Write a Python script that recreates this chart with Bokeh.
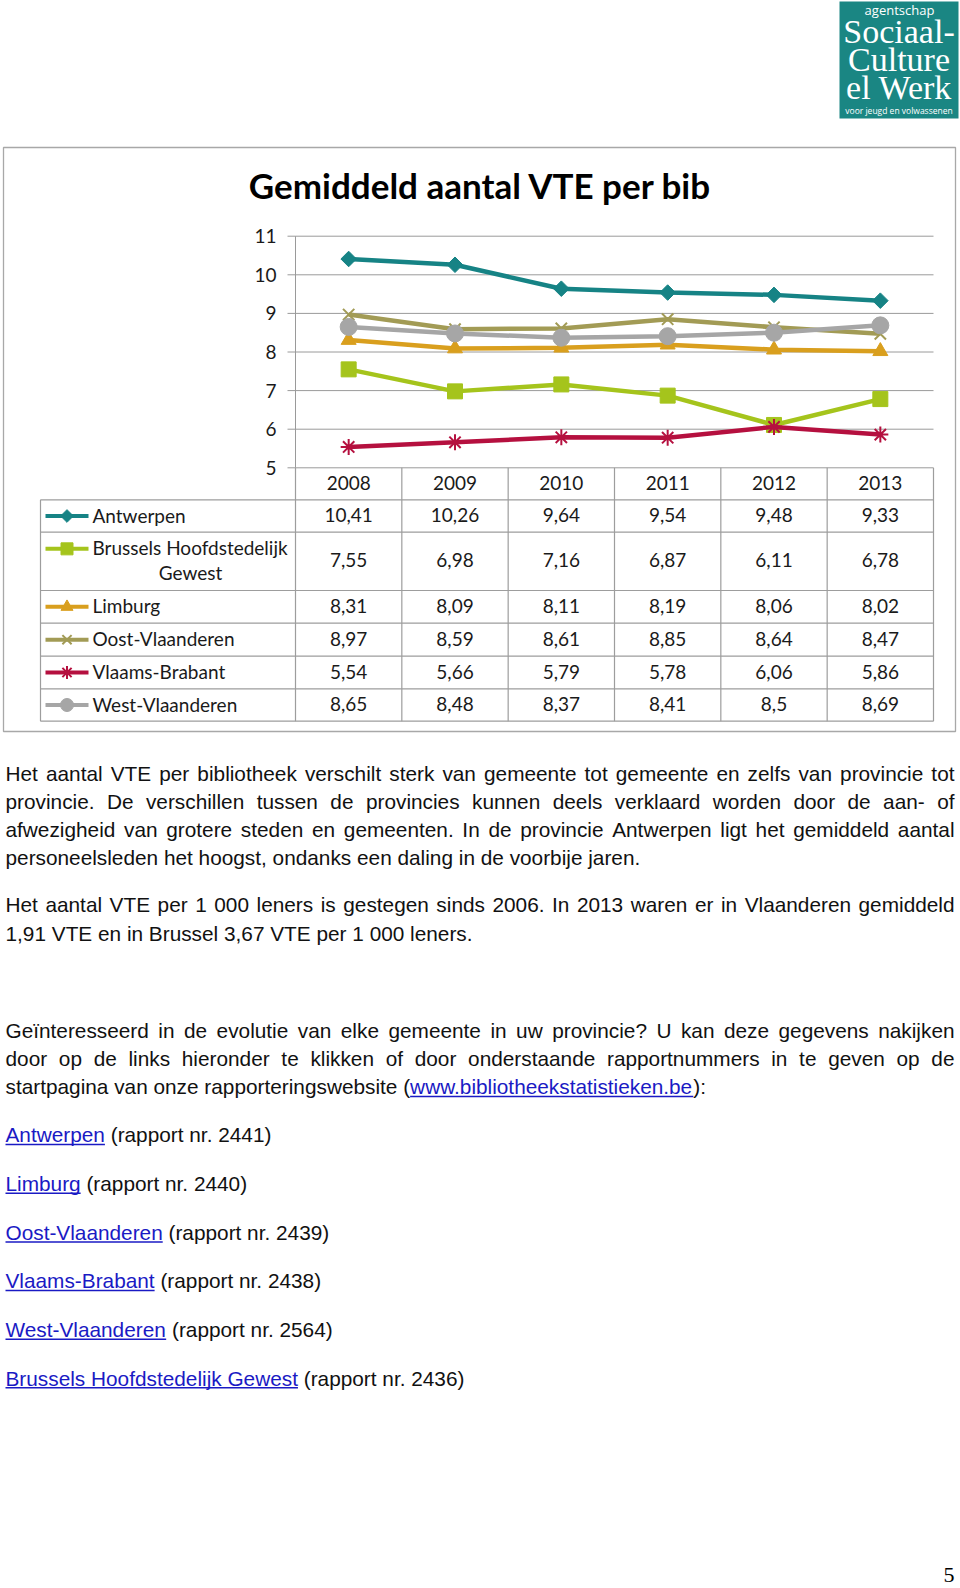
import math
from bokeh.plotting import figure
from bokeh.models import Range1d, ColumnDataSource
from bokeh.core.properties import value
from bokeh.embed import file_html
from bokeh.resources import INLINE

# ---------------- data ----------------
years = [2008, 2009, 2010, 2011, 2012, 2013]
series_names = ["Antwerpen", "Brussels Hoofdstedelijk Gewest", "Limburg",
                "Oost-Vlaanderen", "Vlaams-Brabant", "West-Vlaanderen"]
antwerpen = [10.41, 10.26, 9.64, 9.54, 9.48, 9.33]
brussel = [7.55, 6.98, 7.16, 6.87, 6.11, 6.78]
limburg = [8.31, 8.09, 8.11, 8.19, 8.06, 8.02]
oost_vlaanderen = [8.97, 8.59, 8.61, 8.85, 8.64, 8.47]
vlaams_brabant = [5.54, 5.66, 5.79, 5.78, 6.06, 5.86]
west_vlaanderen = [8.65, 8.48, 8.37, 8.41, 8.5, 8.69]
series_values = [antwerpen, brussel, limburg, oost_vlaanderen, vlaams_brabant, west_vlaanderen]
y_ticks = [5, 6, 7, 8, 9, 10, 11]
y_tick_labels = ["5", "6", "7", "8", "9", "10", "11"]
chart_title = "Gemiddeld aantal VTE per bib"

paragraph_1 = [
    "Het aantal VTE per bibliotheek verschilt sterk van gemeente tot gemeente en zelfs van provincie tot",
    "provincie. De verschillen tussen de provincies kunnen deels verklaard worden door de aan- of",
    "afwezigheid van grotere steden en gemeenten. In de provincie Antwerpen ligt het gemiddeld aantal",
    "personeelsleden het hoogst, ondanks een daling in de voorbije jaren.",
]
paragraph_2 = [
    "Het aantal VTE per 1 000 leners is gestegen sinds 2006. In 2013 waren er in Vlaanderen gemiddeld",
    "1,91 VTE en in Brussel 3,67 VTE per 1 000 leners.",
]
paragraph_3 = [
    "Geïnteresseerd in de evolutie van elke gemeente in uw provincie? U kan deze gegevens nakijken",
    "door op de links hieronder te klikken of door onderstaande rapportnummers in te geven op de",
]
paragraph_3_last = ["startpagina van onze rapporteringswebsite (", "www.bibliotheekstatistieken.be", "):"]
link_names = ["Antwerpen", "Limburg", "Oost-Vlaanderen", "Vlaams-Brabant",
              "West-Vlaanderen", "Brussels Hoofdstedelijk Gewest"]
report_numbers = ["2441", "2440", "2439", "2438", "2564", "2436"]
logo_lines = ["Sociaal-", "Culture", "el Werk"]
page_number = "5"

# ---------------- styles / layout ----------------
colors = ["#168385", "#A5C41C", "#D99F1E", "#A29B55", "#B5103F", "#A6A6A6"]
markers = ["square", "square", "triangle", "x", "asterisk", "circle"]
marker_angles = [math.pi / 4, 0, 0, 0, 0, 0]
marker_sizes = [11, 15, 15, 16, 16, 17]
marker_lw = [1, 1, 1, 2, 2, 1]
key_sizes = [9, 12, 12, 13, 13, 13]

W, H = 960, 1588
PLOT_L, PLOT_R = 295.0, 933.0
Y_TOP_PX, Y_BOT_PX = 235.7, 467.3
TABLE_L = 40.0
HEADER_BOTTOM = 499.3
ROW_BOUNDS = [499.3, 531.7, 590.0, 622.7, 655.7, 688.3, 720.7]
GRID_COLOR = "#9a9a9a"
TABLE_COLOR = "#9d9d9d"
CHART_FONT = "Lato"
CHART_TEXT = "#1a1a1a"
BODY_FONT = "Liberation Sans"
BODY_SIZE = 20.8
BODY_MID = 0.347 * BODY_SIZE      # em-box middle above the baseline
TEXT_L, TEXT_R = 5.0, 954.0
LINK_COLOR = "#1a1ac4"
BODY_COLOR = "#111111"

p = figure(width=W, height=H, x_range=Range1d(0, W), y_range=Range1d(H, 0),
           x_axis_location=None, y_axis_location=None, title=None, tools="",
           output_backend="svg", toolbar_location=None, min_border=0,
           outline_line_color=None, background_fill_color="white",
           border_fill_color="white")
p.grid.visible = False

PX_PER_UNIT = (Y_BOT_PX - Y_TOP_PX) / (y_ticks[-1] - y_ticks[0])
CAT_W = (PLOT_R - PLOT_L) / len(years)
x_first = PLOT_L + CAT_W / 2
p.extra_y_ranges = {"vte": Range1d(start=y_ticks[0] - (H - Y_BOT_PX) / PX_PER_UNIT,
                                   end=y_ticks[-1] + Y_TOP_PX / PX_PER_UNIT)}
p.extra_x_ranges = {"yr": Range1d(start=years[0] - x_first / CAT_W,
                                  end=years[0] + (W - x_first) / CAT_W)}

# ---------------- logo ----------------
p.quad(left=839, right=958, top=1, bottom=118, fill_color="#1a8683", line_color=None)
p.text(x=[899], y=[9.3], text=["agentschap"], text_font=value("Open Sans"),
       text_font_size="13px", text_color="white", text_align="center",
       text_baseline="middle")
p.text(x=[898.5] * 3, y=[b - 0.338 * 34 for b in (42.5, 70.5, 98.5)], text=logo_lines,
       text_font=value("Liberation Serif"), text_font_size="34px", text_color="white",
       text_align="center", text_baseline="middle")
p.text(x=[898.5], y=[113.3 - 0.388 * 8.5], text=["voor jeugd en volwassenen"],
       text_font=value("Open Sans"), text_font_size="8.5px", text_color="white",
       text_align="center", text_baseline="middle")

# ---------------- chart frame & title ----------------
p.quad(left=3, right=955, top=147, bottom=731, fill_color=None,
       line_color="#a8a8a8", line_width=1.3)
p.text(x=[480], y=[198 - 0.387 * 35], text=[chart_title],
       text_font=value(CHART_FONT), text_font_style="bold", text_font_size="35px",
       text_color="black", text_align="center", text_baseline="middle")

# gridlines, axis, ticks and tick labels
p.segment(x0=PLOT_L, x1=PLOT_R, y0=y_ticks, y1=y_ticks, y_range_name="vte",
          line_color=GRID_COLOR, line_width=1)
p.segment(x0=PLOT_L - 8, x1=PLOT_L, y0=y_ticks, y1=y_ticks, y_range_name="vte",
          line_color=GRID_COLOR, line_width=1)
p.segment(x0=PLOT_L, x1=PLOT_L, y0=y_ticks[0], y1=y_ticks[-1], y_range_name="vte",
          line_color=GRID_COLOR, line_width=1)
p.text(x=PLOT_L - 19, y=y_ticks, text=y_tick_labels, y_range_name="vte",
       text_font=value(CHART_FONT), text_font_size="19px", text_color=CHART_TEXT,
       text_align="right", text_baseline="middle")

# ---------------- data table ----------------
bounds = [years[0] - 0.5 + k for k in range(len(years) + 1)]
p.segment(x0=bounds, x1=bounds, y0=Y_BOT_PX, y1=ROW_BOUNDS[-1], x_range_name="yr",
          line_color=TABLE_COLOR, line_width=1.2)
p.segment(x0=TABLE_L, x1=TABLE_L, y0=ROW_BOUNDS[0], y1=ROW_BOUNDS[-1],
          line_color=TABLE_COLOR, line_width=1.2)
p.segment(x0=TABLE_L, x1=PLOT_R, y0=ROW_BOUNDS, y1=ROW_BOUNDS,
          line_color=TABLE_COLOR, line_width=1.2)
p.text(x=years, y=(Y_BOT_PX + HEADER_BOTTOM) / 2 - 1, text=[str(y) for y in years],
       x_range_name="yr", text_font=value(CHART_FONT), text_font_size="19px",
       text_color=CHART_TEXT, text_align="center", text_baseline="middle")

for i, (name, vals) in enumerate(zip(series_names, series_values)):
    top, bot = ROW_BOUNDS[i], ROW_BOUNDS[i + 1]
    cy = (top + bot) / 2 - 1
    p.text(x=years, y=cy, text=[f"{v:g}".replace(".", ",") for v in vals],
           x_range_name="yr", text_font=value(CHART_FONT), text_font_size="19px",
           text_color=CHART_TEXT, text_align="center", text_baseline="middle")
    if len(name) > 20:
        first, second = name.rsplit(" ", 1)
        key_y = cy - 12.5
        p.text(x=[92], y=[key_y], text=[first], text_font=value(CHART_FONT),
               text_font_size="19px", text_color=CHART_TEXT, text_align="left",
               text_baseline="middle")
        p.text(x=[190], y=[cy + 12.5], text=[second], text_font=value(CHART_FONT),
               text_font_size="19px", text_color=CHART_TEXT, text_align="center",
               text_baseline="middle")
    else:
        key_y = cy
        p.text(x=[92], y=[key_y], text=[name], text_font=value(CHART_FONT),
               text_font_size="19px", text_color=CHART_TEXT, text_align="left",
               text_baseline="middle")
    # legend key
    p.segment(x0=45, x1=88, y0=key_y + 1, y1=key_y + 1, line_color=colors[i], line_width=4)
    p.scatter(x=[66.5], y=[key_y + 1], marker=markers[i], size=key_sizes[i],
              angle=marker_angles[i], fill_color=colors[i], line_color=colors[i],
              line_width=marker_lw[i])

# ---------------- series ----------------
for i, vals in enumerate(series_values):
    src = ColumnDataSource(dict(x=years, y=vals))
    p.line("x", "y", source=src, x_range_name="yr", y_range_name="vte",
           line_color=colors[i], line_width=4.5)
    p.scatter("x", "y", source=src, x_range_name="yr", y_range_name="vte",
              marker=markers[i], size=marker_sizes[i], angle=marker_angles[i],
              fill_color=colors[i], line_color=colors[i], line_width=marker_lw[i])

# ---------------- body text ----------------
ARIAL_W = {' ': 278, '.': 278, ',': 278, ':': 278, ';': 278, '?': 556, '!': 278,
           '(': 333, ')': 333, '-': 333, '/': 278, 'ï': 278, 'ë': 556}
for c in "0123456789":
    ARIAL_W[c] = 556
ARIAL_W.update(dict(zip("ABCDEFGHIJKLMNOPQRSTUVWXYZ",
                        [667, 667, 722, 722, 667, 611, 778, 722, 278, 500, 667, 556, 833,
                         722, 778, 667, 778, 722, 667, 611, 722, 667, 944, 667, 667, 611])))
ARIAL_W.update(dict(zip("abcdefghijklmnopqrstuvwxyz",
                        [556, 556, 500, 556, 556, 278, 556, 556, 222, 222, 500, 222, 833,
                         556, 556, 556, 556, 333, 500, 278, 556, 500, 722, 500, 500, 500])))


def tw(s):
    return sum(ARIAL_W.get(c, 556) for c in s) * BODY_SIZE / 1000.0


black = dict(x=[], y=[], t=[])
blue = dict(x=[], y=[], t=[])
under = dict(x0=[], x1=[], y=[])


def justified(line, base):
    words = line.split(" ")
    widths = [tw(w) for w in words]
    gap = (TEXT_R - TEXT_L - sum(widths)) / (len(words) - 1)
    x = TEXT_L
    for w, wd in zip(words, widths):
        black["x"].append(x); black["y"].append(base - BODY_MID); black["t"].append(w)
        x += wd + gap


def runs_line(runs, base):
    x = TEXT_L
    for text, is_link in runs:
        while text.startswith(" "):
            x += tw(" ")
            text = text[1:]
        tgt = blue if is_link else black
        tgt["x"].append(x); tgt["y"].append(base - BODY_MID); tgt["t"].append(text)
        if is_link:
            under["x0"].append(x); under["x1"].append(x + tw(text)); under["y"].append(base + 2.4)
        x += tw(text)


LEAD = 28.1
for k, line in enumerate(paragraph_1):
    base = 780.0 + k * LEAD
    if k < len(paragraph_1) - 1:
        justified(line, base)
    else:
        runs_line([(line, False)], base)
for k, line in enumerate(paragraph_2):
    base = 911.7 + k * LEAD
    if k < len(paragraph_2) - 1:
        justified(line, base)
    else:
        runs_line([(line, False)], base)
for k, line in enumerate(paragraph_3):
    justified(line, 1037.3 + k * LEAD)
runs_line([(paragraph_3_last[0], False), (paragraph_3_last[1], True),
           (paragraph_3_last[2], False)], 1037.3 + 2 * LEAD)
for k, (nm, nr) in enumerate(zip(link_names, report_numbers)):
    runs_line([(nm, True), (f" (rapport nr. {nr})", False)], 1141.7 + k * 48.65)

p.text(x="x", y="y", text="t", source=ColumnDataSource(black),
       text_font=value(BODY_FONT), text_font_size=f"{BODY_SIZE}px",
       text_color=BODY_COLOR, text_align="left", text_baseline="middle")
p.text(x="x", y="y", text="t", source=ColumnDataSource(blue),
       text_font=value(BODY_FONT), text_font_size=f"{BODY_SIZE}px",
       text_color=LINK_COLOR, text_align="left", text_baseline="middle")
p.segment(x0="x0", x1="x1", y0="y", y1="y", source=ColumnDataSource(under),
          line_color=LINK_COLOR, line_width=1.5)

# page number
p.text(x=[954], y=[1582 - 0.338 * 22], text=[page_number], text_font=value("Liberation Serif"),
       text_font_size="22px", text_color="black", text_align="right",
       text_baseline="middle")

open("out.html", "w").write(file_html(p, INLINE))
